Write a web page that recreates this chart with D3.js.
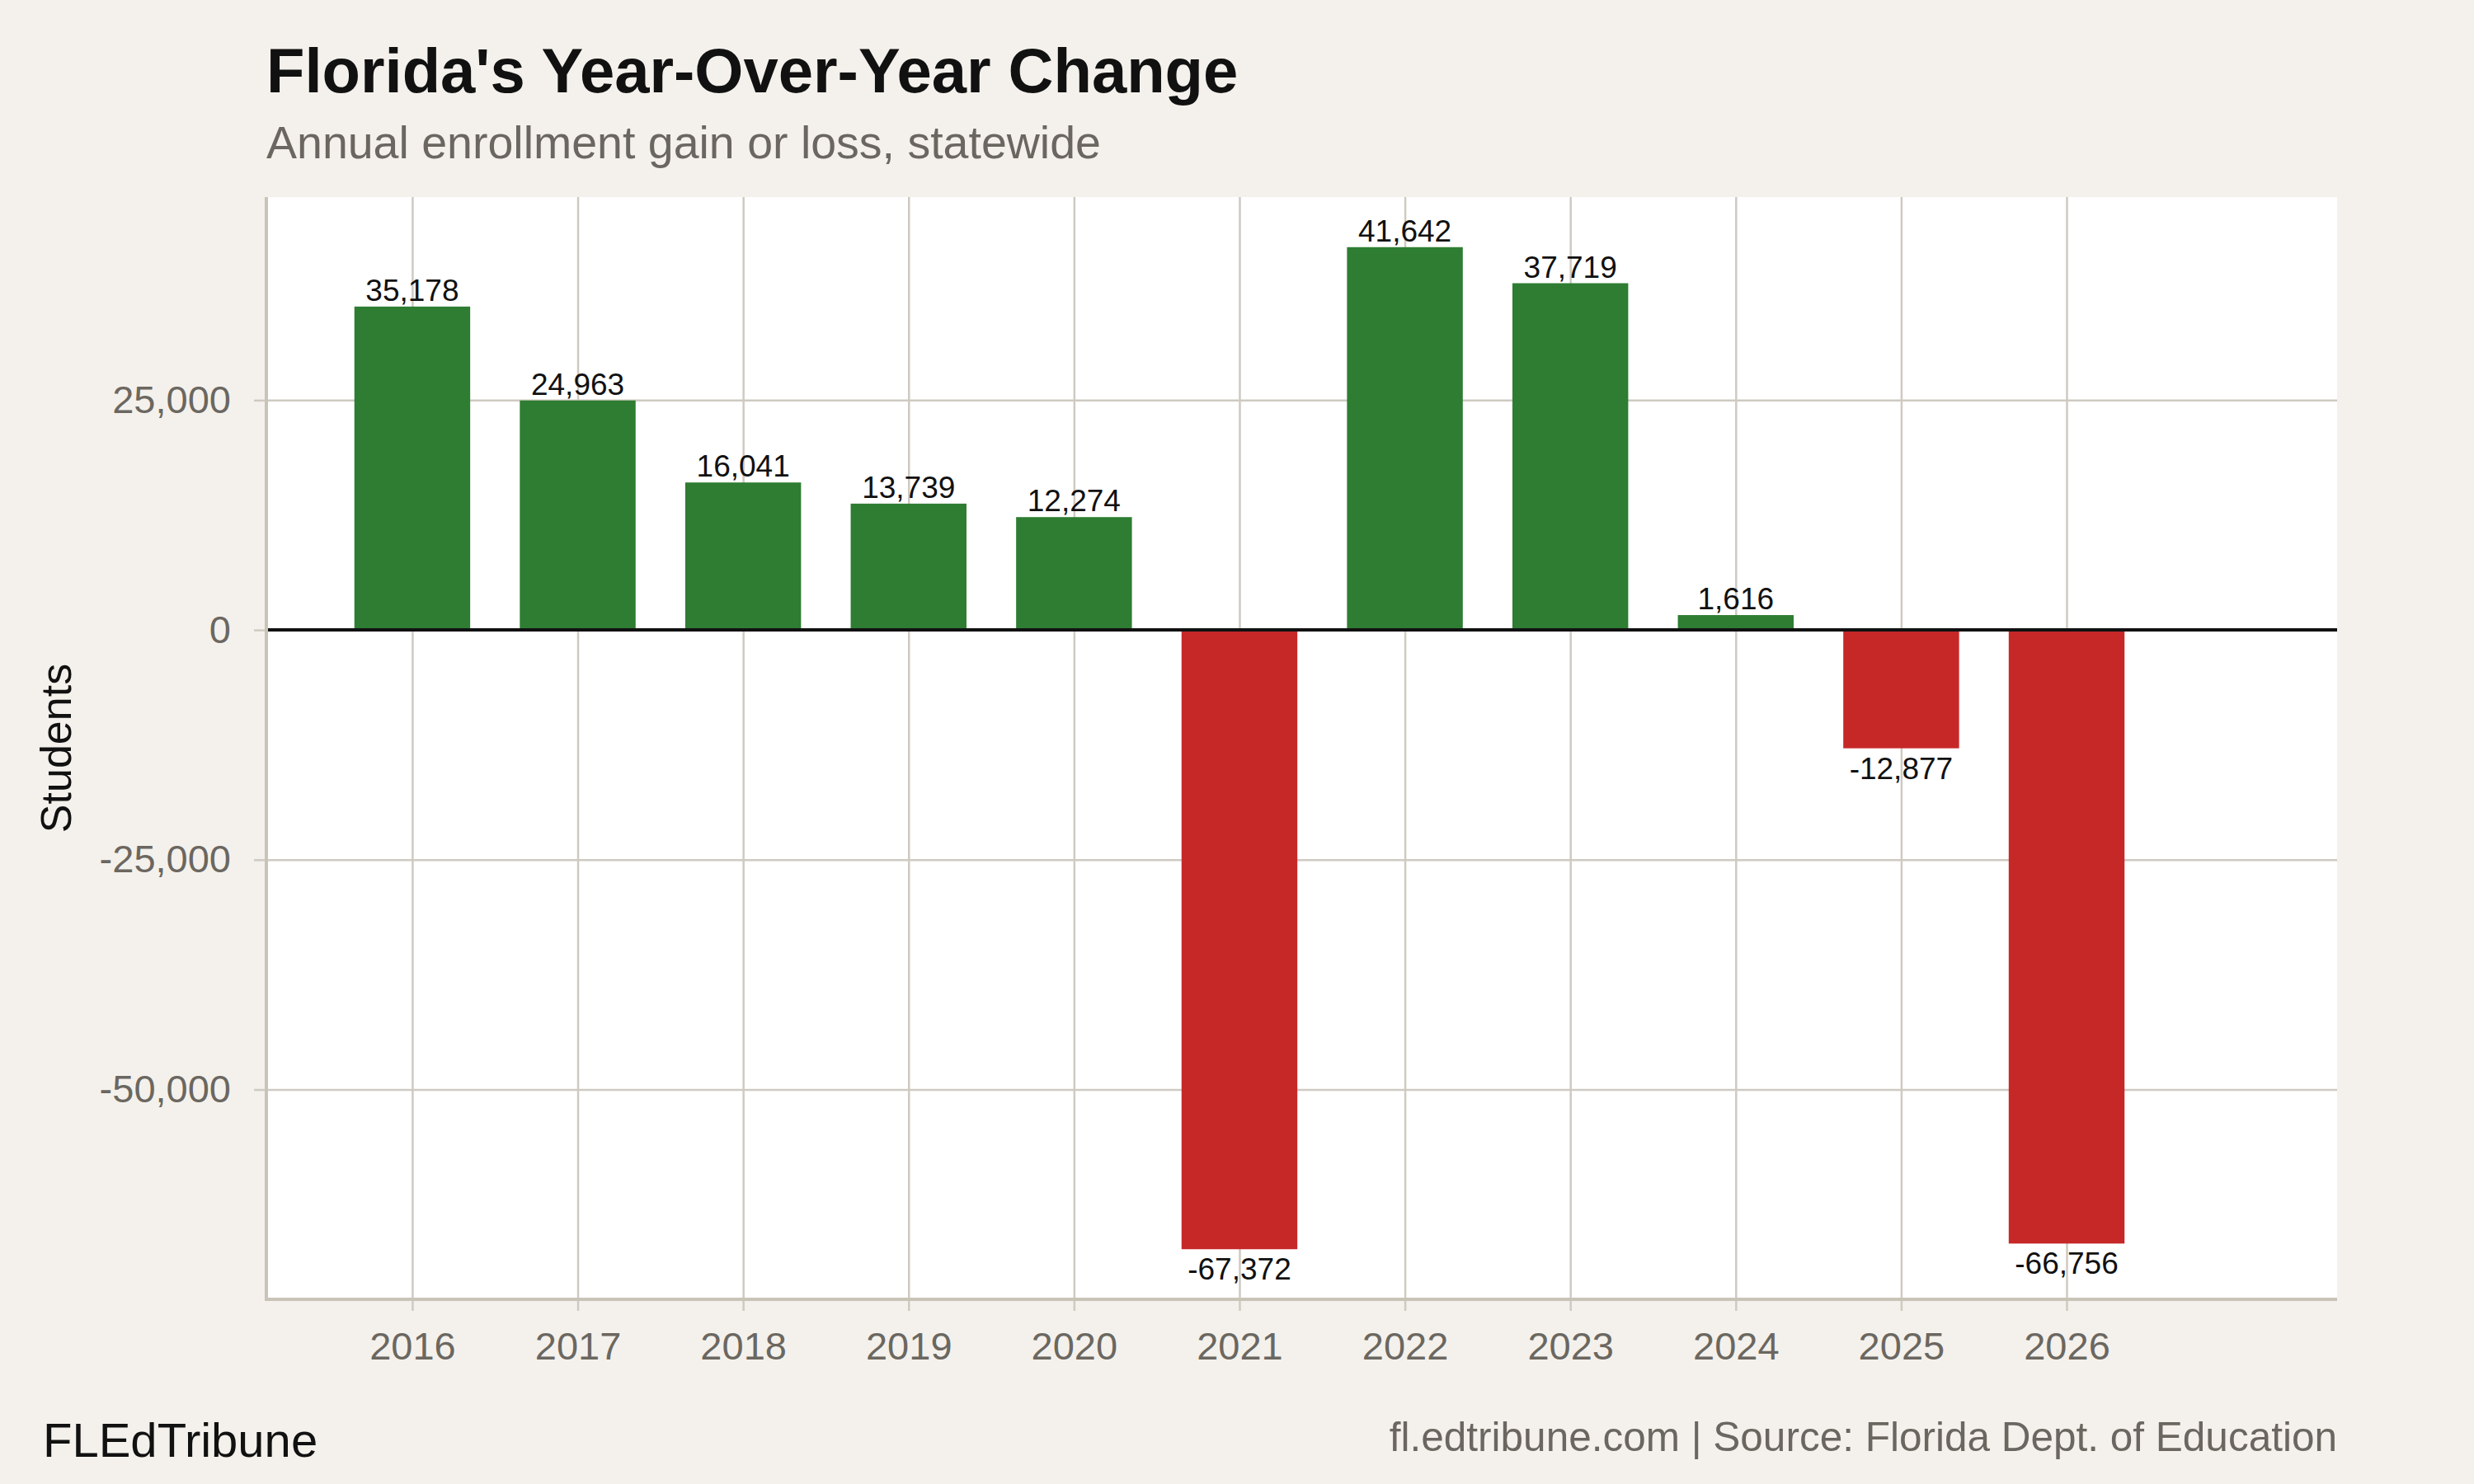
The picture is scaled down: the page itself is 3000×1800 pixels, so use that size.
<!DOCTYPE html>
<html>
<head>
<meta charset="utf-8">
<script src="https://cdn.jsdelivr.net/npm/d3@7"></script>
<style>
  body { margin: 0; background: #f4f1ec; }
  svg { display: block; font-family: "Liberation Sans", Arial, sans-serif; }
</style>
</head>
<body>
<div id="chart"></div>
<script>
// data
var years = [2016, 2017, 2018, 2019, 2020, 2021, 2022, 2023, 2024, 2025, 2026];
var changes = [35178, 24963, 16041, 13739, 12274, -67372, 41642, 37719, 1616, -12877, -66756];
var yTicks = [-50000, -25000, 0, 25000];

var W = 3000, H = 1800;
var margin = { top: 239, right: 166, bottom: 224, left: 323 };
var width = W - margin.left - margin.right;
var height = H - margin.top - margin.bottom;

// comma format with a plain hyphen for negatives
var fmt = function(v) { return d3.format(',')(v).replace('\u2212', '-'); };

var svg = d3.select('#chart')
  .append('svg')
  .attr('width', W)
  .attr('height', H);

svg.append('rect').attr('width', W).attr('height', H).attr('fill', '#f4f1ec');

var g = svg.append('g')
  .attr('transform', 'translate(' + margin.left + ',' + margin.top + ')');

// scales (ggplot style 5% expansion)
var yMin = d3.min(changes), yMax = d3.max(changes);
var pad = (yMax - yMin) * 0.05;
var y = d3.scaleLinear()
  .domain([yMin - pad, yMax + pad])
  .range([height, 0]);

var x = d3.scaleLinear()
  .domain([2015.118, 2027.635])
  .range([0, width]);

var barW = x(2016.7) - x(2016);

// panel
g.append('rect')
  .attr('width', width)
  .attr('height', height)
  .attr('fill', '#ffffff');

// gridlines
var gridY = g.append('g')
  .call(d3.axisLeft(y).tickValues(yTicks).tickSize(-width).tickFormat(''));
gridY.select('.domain').remove();
gridY.selectAll('line').attr('stroke', '#cfcac1').attr('stroke-width', 2.5);

var gridX = g.append('g')
  .attr('transform', 'translate(0,' + height + ')')
  .call(d3.axisBottom(x).tickValues(years).tickSize(-height).tickFormat(''));
gridX.select('.domain').remove();
gridX.selectAll('line').attr('stroke', '#cfcac1').attr('stroke-width', 2.5);

// bars
g.selectAll('.bar')
  .data(years)
  .enter().append('rect')
  .attr('class', 'bar')
  .attr('x', (d, i) => x(d) - barW / 2)
  .attr('y', (d, i) => y(Math.max(0, changes[i])))
  .attr('width', barW)
  .attr('height', (d, i) => Math.abs(y(changes[i]) - y(0)))
  .attr('fill', (d, i) => changes[i] >= 0 ? '#2e7d32' : '#c62828');

// zero line
g.append('line')
  .attr('x1', 0).attr('x2', width)
  .attr('y1', y(0)).attr('y2', y(0))
  .attr('stroke', '#111111')
  .attr('stroke-width', 4);

// value labels
g.selectAll('.val')
  .data(years)
  .enter().append('text')
  .attr('class', 'val')
  .attr('x', d => x(d))
  .attr('y', (d, i) => changes[i] >= 0 ? y(changes[i]) - 7 : y(changes[i]) + 37)
  .attr('text-anchor', 'middle')
  .style('font-size', '37px')
  .attr('fill', '#111111')
  .text((d, i) => fmt(changes[i]));

// axes
var yAxis = g.append('g')
  .call(d3.axisLeft(y).tickValues(yTicks).tickSize(15).tickPadding(28).tickFormat(fmt));
var xAxis = g.append('g')
  .attr('transform', 'translate(0,' + height + ')')
  .call(d3.axisBottom(x).tickValues(years).tickSize(14).tickPadding(26).tickFormat(d3.format('d')));

[yAxis, xAxis].forEach(function(a) {
  a.select('.domain').remove();
  a.selectAll('line').attr('stroke', '#cfcac1').attr('stroke-width', 2.5);
  a.selectAll('text')
    .attr('fill', '#6b6760')
    .style('font-size', '47px')
    .style('font-family', '"Liberation Sans", Arial, sans-serif');
});

// axis lines (left and bottom)
g.append('line')
  .attr('x1', 0).attr('x2', 0)
  .attr('y1', 0).attr('y2', height + 2)
  .attr('stroke', '#c9c3b8').attr('stroke-width', 4);
g.append('line')
  .attr('x1', -2).attr('x2', width)
  .attr('y1', height).attr('y2', height)
  .attr('stroke', '#c9c3b8').attr('stroke-width', 4);

// y axis title
svg.append('text')
  .attr('transform', 'translate(86,' + (margin.top + height / 2) + ') rotate(-90)')
  .attr('text-anchor', 'middle')
  .style('font-size', '52px')
  .attr('fill', '#111111')
  .text('Students');

// title & subtitle
svg.append('text')
  .attr('x', margin.left)
  .attr('y', 112)
  .style('font-size', '76px')
  .style('font-weight', 'bold')
  .attr('fill', '#111111')
  .text("Florida's Year-Over-Year Change");

svg.append('text')
  .attr('x', margin.left)
  .attr('y', 192)
  .style('font-size', '55.5px')
  .attr('fill', '#6b6760')
  .text('Annual enrollment gain or loss, statewide');

// footer
svg.append('text')
  .attr('x', 52)
  .attr('y', 1767)
  .style('font-size', '58px')
  .attr('fill', '#111111')
  .text('FLEdTribune');

svg.append('text')
  .attr('x', margin.left + width)
  .attr('y', 1760)
  .attr('text-anchor', 'end')
  .style('font-size', '49.5px')
  .attr('fill', '#6b6760')
  .text('fl.edtribune.com | Source: Florida Dept. of Education');
</script>
</body>
</html>
